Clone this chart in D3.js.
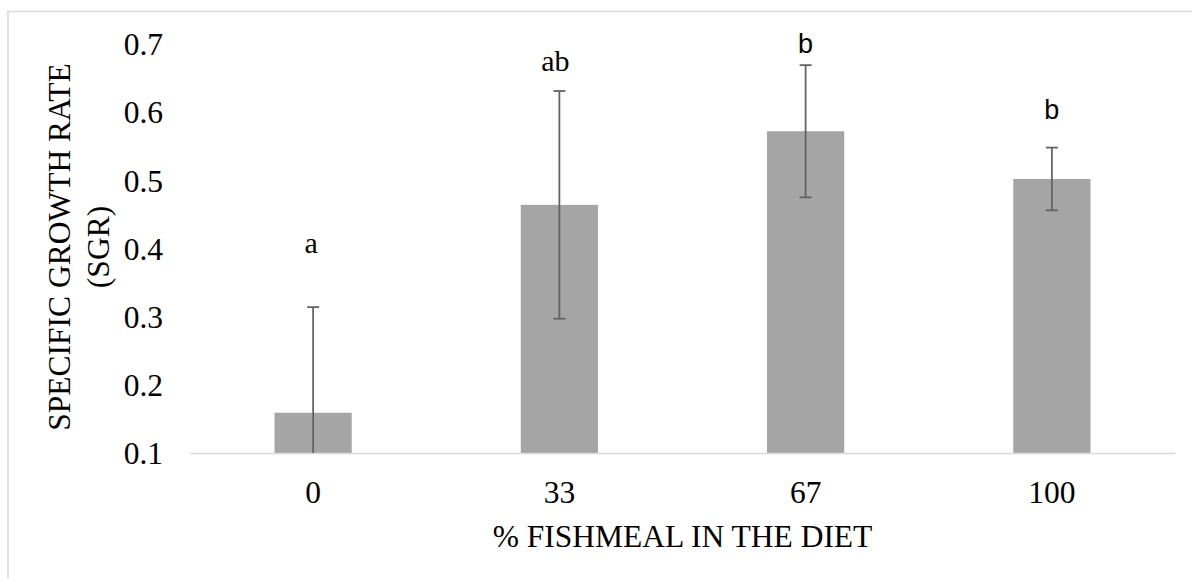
<!DOCTYPE html>
<html>
<head>
<meta charset="utf-8">
<script src="https://cdn.jsdelivr.net/npm/d3@7"></script>
<style>
  html, body { margin: 0; padding: 0; background: #fff; }
  svg { display: block; }
</style>
</head>
<body>
<svg id="chart" width="1192" height="579"></svg>
<script>
// Fishmeal inclusion level (%) and mean specific growth rate with error
const categories = ["0", "33", "67", "100"];
const sgrMean = [0.159, 0.464, 0.572, 0.502];
const sgrError = [0.155, 0.167, 0.097, 0.046];
const groupLetters = ["a", "ab", "b", "b"];
const yTicks = [0.1, 0.2, 0.3, 0.4, 0.5, 0.6, 0.7];

const W = 1192, H = 579;
const plot = { left: 190, right: 1175, top: 44, bottom: 453 };

const svg = d3.select("#chart");

// Chart area frame (top and left edges visible)
svg.append("line").attr("x1", 7).attr("x2", W).attr("y1", 11.5).attr("y2", 11.5)
  .attr("stroke", "#d9d9d9").attr("stroke-width", 1.5);
svg.append("line").attr("x1", 8).attr("x2", 8).attr("y1", 11).attr("y2", H)
  .attr("stroke", "#d9d9d9").attr("stroke-width", 1.5);

const x = d3.scaleBand().domain(categories)
  .range([plot.left, plot.right]).paddingInner(0.6865).paddingOuter(0.34325);
const xc = d3.scaleBand().domain(categories).range([plot.left, plot.right]);
const y = d3.scaleLinear().domain([0.1, 0.7]).range([plot.bottom, plot.top]);

const serif = "'Liberation Serif', 'Times New Roman', serif";
const sans = "'Liberation Sans', Arial, sans-serif";

// Y axis tick labels (no axis line)
const yAxis = d3.axisLeft(y).tickValues(yTicks).tickSize(0).tickPadding(27)
  .tickFormat(d3.format(".1f"));
const gy = svg.append("g").attr("transform", `translate(${plot.left},0)`).call(yAxis);
gy.select(".domain").remove();
gy.selectAll("text").attr("font-family", serif).attr("font-size", 31.5)
  .attr("fill", "#000").attr("dy", "0.34em");

// Bars
const bars = categories.map((c, i) => ({ c, v: sgrMean[i], e: sgrError[i], l: groupLetters[i] }));
svg.append("g").selectAll("rect").data(bars).join("rect")
  .attr("x", d => x(d.c))
  .attr("width", x.bandwidth())
  .attr("y", d => y(d.v))
  .attr("height", d => y(0.1) - y(d.v))
  .attr("fill", "#a5a5a5");

// X axis baseline and category labels
const xAxis = d3.axisBottom(xc).tickSize(0).tickPadding(0);
const gx = svg.append("g").attr("transform", `translate(0,${plot.bottom})`).call(xAxis);
gx.select(".domain").attr("stroke", "#d9d9d9").attr("stroke-width", 1.5);
gx.selectAll("text").attr("font-family", serif).attr("font-size", 31.5)
  .attr("fill", "#000").attr("dy", null).attr("y", 49.5);

// Error bars (lower whisker clipped at the axis minimum)
const cap = 6;
const eb = svg.append("g").attr("stroke", "#636363").attr("stroke-width", 1.8);
bars.forEach(d => {
  const cx = xc(d.c) + xc.bandwidth() / 2;
  const hi = d.v + d.e;
  const lo = Math.max(0.1, d.v - d.e);
  eb.append("line").attr("x1", cx).attr("x2", cx).attr("y1", y(hi)).attr("y2", y(lo));
  eb.append("line").attr("x1", cx - cap).attr("x2", cx + cap).attr("y1", y(hi)).attr("y2", y(hi));
  if (d.v - d.e >= 0.1) {
    eb.append("line").attr("x1", cx - cap).attr("x2", cx + cap).attr("y1", y(lo)).attr("y2", y(lo));
  }
});

// Significance letters placed above the error bars
const letterLift = [54.5, 20, 12.5, 29];
const letterShift = [-2, -4, 0, 0];
const letterFont = [serif, serif, sans, sans];
const letterSize = [30, 30, 27, 27];
svg.append("g").selectAll("text").data(bars).join("text")
  .attr("x", (d, i) => xc(d.c) + xc.bandwidth() / 2 + letterShift[i])
  .attr("y", (d, i) => y(d.v + d.e) - letterLift[i])
  .attr("text-anchor", "middle")
  .attr("font-family", (d, i) => letterFont[i])
  .attr("font-size", (d, i) => letterSize[i])
  .attr("fill", "#000")
  .text(d => d.l);

// Axis titles
svg.append("text")
  .attr("x", (plot.left + plot.right) / 2).attr("y", 546.7)
  .attr("text-anchor", "middle")
  .attr("font-family", serif).attr("font-size", 31.5).attr("fill", "#000")
  .text("% FISHMEAL IN THE DIET");

const yTitle = svg.append("text")
  .attr("transform", "translate(0,247) rotate(-90)")
  .attr("text-anchor", "middle")
  .attr("font-family", serif).attr("font-size", 31.5).attr("fill", "#000");
yTitle.append("tspan").attr("x", 0).attr("y", 70).text("SPECIFIC GROWTH RATE");
yTitle.append("tspan").attr("x", 0).attr("y", 109).text("(SGR)");
</script>
</body>
</html>
